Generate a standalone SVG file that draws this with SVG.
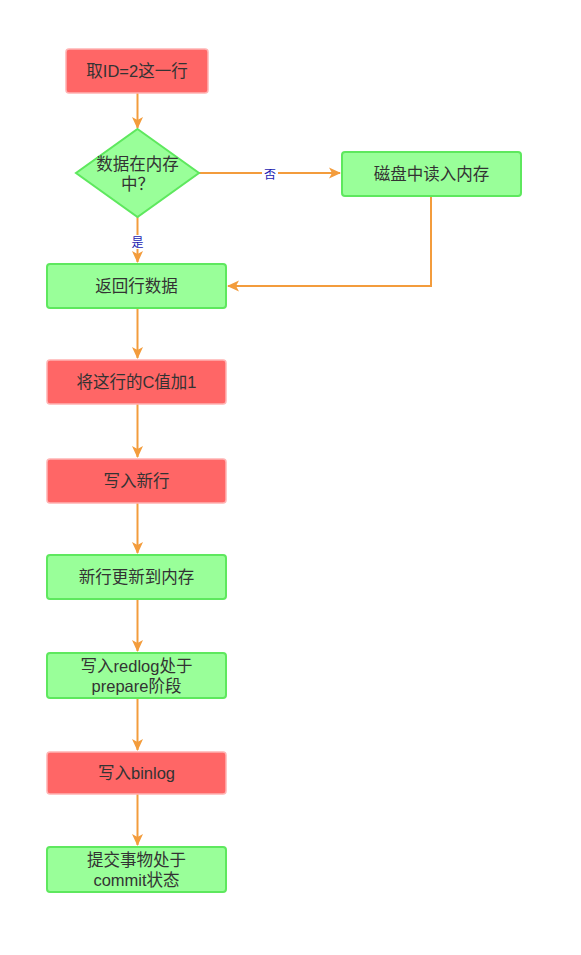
<svg xmlns="http://www.w3.org/2000/svg" width="581" height="955" viewBox="0 0 581 955">
<defs>
<marker id="ah" viewBox="0 0 12 12" refX="11" refY="6" markerWidth="12" markerHeight="12" markerUnits="userSpaceOnUse" orient="auto">
<path d="M0,0.5 L12,6 L0,11.5 L3,6 Z" fill="#F39C3C"/>
</marker>
</defs>
<style>
.red{fill:#FF6666;stroke:#FFB3B3;stroke-width:1.5}
.green{fill:#99FF99;stroke:#5EE85E;stroke-width:2}
.t{font-family:"Liberation Sans","Noto Sans CJK SC",sans-serif;font-size:16.5px;fill:#333;text-anchor:middle}
.cjk{font-family:"Noto Sans CJK SC",sans-serif}
.lbl{font-family:"Liberation Sans","Noto Sans CJK SC",sans-serif;font-size:12px;fill:#1A1AB0;text-anchor:middle}
.c{fill:none;stroke:#F39C3C;stroke-width:2;marker-end:url(#ah)}
</style>
<rect width="581" height="955" fill="#fff"/>
<g id="connectors">
<path class="c" d="M137.5,93 V128"/>
<path class="c" d="M199,173 H340"/>
<path class="c" d="M137.5,217 V262"/>
<path class="c" d="M431,196 V286 H228"/>
<path class="c" d="M137.5,308 V358"/>
<path class="c" d="M137.5,404 V457"/>
<path class="c" d="M137.5,503 V553"/>
<path class="c" d="M137.5,599 V651"/>
<path class="c" d="M137.5,698 V750"/>
<path class="c" d="M137.5,794 V845"/>
<rect x="262" y="167" width="16" height="14" fill="#fff"/>
<text class="lbl" x="270" y="179">否</text>
<rect x="130" y="235" width="15" height="14" fill="#fff"/>
<text class="lbl" x="137.5" y="247">是</text>
</g>
<g id="n1"><rect class="red" x="66" y="49" width="142" height="44" rx="3"/><text class="t" x="137" y="77">取ID=2这一行</text></g>
<g id="n2"><polygon class="green" points="137.5,129 199,173 137.5,217 76,173"/><text class="t" x="137.5" y="170">数据在内存</text><text class="t cjk" x="137.5" y="190">中？</text></g>
<g id="n3"><rect class="green" x="342" y="152" width="179" height="44" rx="3"/><text class="t" x="431.5" y="180">磁盘中读入内存</text></g>
<g id="n4"><rect class="green" x="47" y="264" width="179" height="44" rx="3"/><text class="t" x="136.5" y="292">返回行数据</text></g>
<g id="n5"><rect class="red" x="47" y="360" width="179" height="44" rx="3"/><text class="t" x="136.5" y="388">将这行的C值加1</text></g>
<g id="n6"><rect class="red" x="47" y="459" width="179" height="44" rx="3"/><text class="t" x="136.5" y="487">写入新行</text></g>
<g id="n7"><rect class="green" x="47" y="555" width="179" height="44" rx="3"/><text class="t" x="136.5" y="583">新行更新到内存</text></g>
<g id="n8"><rect class="green" x="47" y="653" width="179" height="45" rx="3"/><text class="t" x="136.5" y="672">写入redlog处于</text><text class="t" x="136.5" y="692">prepare阶段</text></g>
<g id="n9"><rect class="red" x="47" y="752" width="179" height="42" rx="3"/><text class="t" x="136.5" y="779">写入binlog</text></g>
<g id="n10"><rect class="green" x="47" y="847" width="179" height="45" rx="3"/><text class="t" x="136.5" y="866">提交事物处于</text><text class="t" x="136.5" y="886">commit状态</text></g>
</svg>
